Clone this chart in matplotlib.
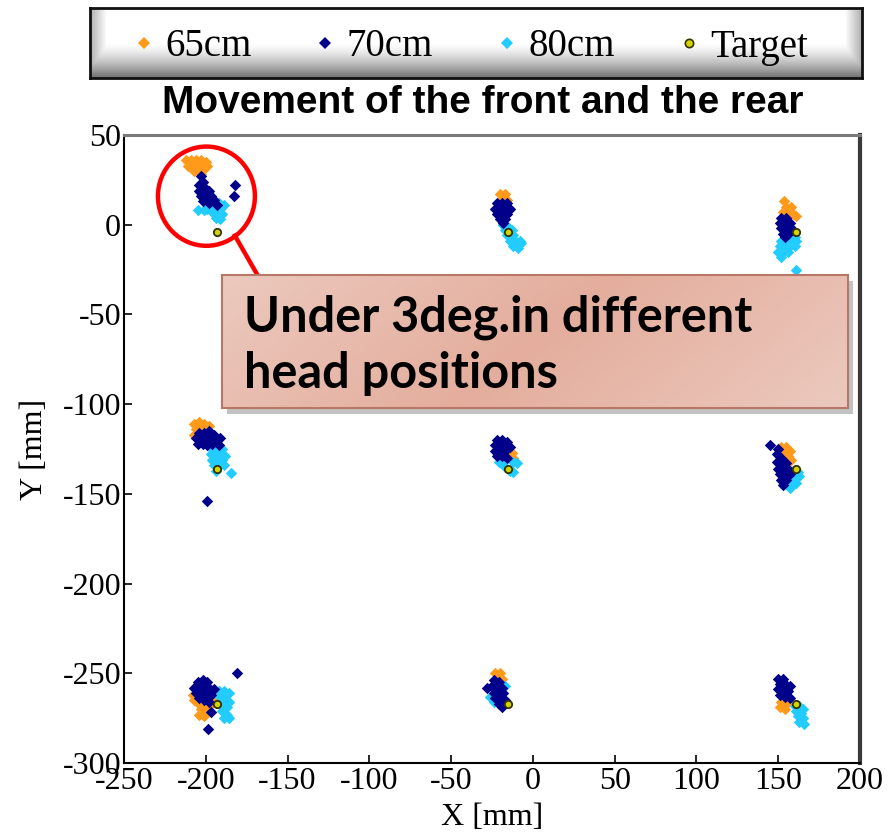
import numpy as np
import matplotlib
matplotlib.use('Agg')
import matplotlib.pyplot as plt
from matplotlib.patches import Ellipse
from matplotlib.lines import Line2D

plt.rcParams['axes.unicode_minus'] = False

# ---------------- data (mm) ----------------
cm65_pts = [
    (-212, 36), (-209, 36), (-206, 36), (-203, 36), (-200, 35), (-211, 33), (-208, 33),
    (-205, 33), (-202, 33), (-199, 33), (-207, 30), (-204, 30), (-201, 31), (-203, 28),
    (-20, 17), (-17, 17), (-19, 14), (-16, 14),
    (153.6, 13), (155, 10), (158, 10), (153, 7), (156, 7), (159, 6), (161, 5),
    (-207, -111), (-204, -110), (-201, -111), (-198, -112), (-206, -114), (-203, -114),
    (-200, -115), (-207, -117),
    (-13, -127), (-12, -130),
    (152, -124), (155, -124), (157, -126), (153, -127), (156, -129), (158, -131),
    (-208, -262), (-207, -265), (-204, -267), (-201, -268), (-198, -268), (-195, -262),
    (-194, -265), (-203, -270), (-200, -271), (-204, -273), (-201, -274),
    (-23, -250), (-20, -250), (-22, -253), (-19, -253),
    (155, -261), (152, -266), (155, -267), (151, -269), (154, -270),
]
cm70_pts = [
    (-203, 27), (-202, 24), (-204, 22), (-201, 21), (-204, 19), (-201, 18), (-198, 19),
    (-203, 16), (-200, 15), (-197, 16), (-195, 14), (-202, 13), (-198, 12),
    (-182, 22), (-183, 16), (-193, 11),
    (-22, 12), (-19, 12), (-16, 12), (-23, 9), (-20, 9), (-17, 9), (-14, 9), (-22, 6),
    (-19, 6), (-16, 6), (-20, 3), (-17, 3), (-18, 1),
    (152, 4), (155, 4), (151, 1), (154, 1), (157, 1), (152, -2), (155, -2), (158, -2),
    (153, -5), (156, -5), (154, -7),
    (-204, -116), (-201, -116), (-198, -115), (-195, -117), (-206, -119), (-203, -119),
    (-200, -119), (-197, -119), (-194, -119), (-191, -119), (-205, -122), (-202, -122),
    (-199, -123), (-196, -122), (-192, -123), (-199.5, -154),
    (-22, -120), (-19, -120), (-16, -121), (-23, -123), (-20, -123), (-17, -123),
    (-14, -124), (-23, -126), (-20, -126), (-17, -126), (-22, -129), (-19, -129), (-16, -130),
    (145, -123), (150, -125), (149, -128), (152, -130), (149, -132), (152, -133), (155, -133),
    (150, -136), (153, -136), (156, -136), (151, -139), (154, -139), (157, -139),
    (152, -142), (155, -142), (153, -145),
    (-205, -255), (-202, -254), (-199, -255), (-207, -258), (-204, -258), (-201, -258),
    (-198, -258), (-195, -259), (-206, -261), (-203, -261), (-200, -261), (-197, -262),
    (-204, -264), (-201, -265), (-198, -266), (-180.7, -250), (-198.5, -281), (-197, -271.5),
    (-28, -258), (-24, -254), (-21, -255), (-25, -257), (-22, -258), (-19, -258), (-24, -261),
    (-21, -261), (-18, -261), (-23, -264), (-20, -264), (-17, -265), (-21, -267), (-19, -269),
    (150, -253), (153, -253), (151, -256), (154, -256), (157, -257), (150, -259), (153, -259),
    (156, -260), (151, -262), (154, -263), (157, -264),
]
cm80_pts = [
    (-195, 13), (-192, 12), (-197, 10), (-194, 9), (-191, 9), (-189, 11), (-196, 7),
    (-193, 6), (-190, 6), (-194, 4), (-191, 3), (-205, 8), (-201, 8), (-199, 9),
    (-18, 0), (-15, -1), (-17, -3), (-13, -3), (-16, -6), (-12, -6), (-14, -9), (-11, -9),
    (-8, -9), (-12, -12), (-9, -13), (-7, -10),
    (154, -6), (157, -6), (160, -7), (152, -9), (155, -9), (158, -9), (161, -9), (151, -12),
    (154, -12), (157, -12), (160, -12), (150, -15), (153, -15), (156, -15), (152, -18),
    (160.7, -25),
    (-196, -125), (-193, -124), (-190, -125), (-197, -128), (-194, -128), (-191, -128),
    (-188, -129), (-196, -131), (-193, -131), (-190, -131), (-195, -134), (-192, -134),
    (-189, -134), (-194, -137), (-184.6, -138.6),
    (-21, -132), (-18, -132), (-12, -132), (-10, -133), (-17, -135), (-14, -137), (-12, -138),
    (159, -137), (162, -138), (157, -140), (160, -141), (163, -140), (158, -143), (161, -144),
    (157, -147),
    (-192, -260), (-189, -260), (-186, -261), (-191, -263), (-188, -264), (-186, -266),
    (-190, -268), (-187, -269), (-190, -271), (-187, -273), (-189, -275), (-186, -275),
    (-26, -263), (-17, -257), (-24, -266),
    (160, -268), (163, -268), (165, -270), (161, -271), (164, -272), (162, -274), (165, -275),
    (163, -277), (166, -278),
]
target_x = [-193, -15, 161, -193, -15, 161, -193, -15, 161]
target_y = [-4, -4, -4, -136, -136, -136, -267, -267, -267]

series_labels = ['65cm', '70cm', '80cm', 'Target']
series_colors = ['#FF9A1A', '#00008B', '#22CCFF', '#D4D400']

x_ticks = [-250, -200, -150, -100, -50, 0, 50, 100, 150, 200]
y_ticks = [50, 0, -50, -100, -150, -200, -250, -300]

title = 'Movement of the front and the rear'
note = 'Under 3deg.in different\nhead positions'

# ---------------- figure ----------------
W, H = 893, 834
fig = plt.figure(figsize=(W / 100, H / 100), dpi=100)


def fx(px):
    return px / W


def fy(py):
    return 1 - py / H


ax = fig.add_axes([fx(124), fy(763), fx(860) - fx(124), fy(135) - fy(763)])
ax.set_xlim(-250, 200)
ax.set_ylim(-300, 50)

for pts, col in zip([cm65_pts, cm80_pts, cm70_pts],
                    [series_colors[0], series_colors[2], series_colors[1]]):
    xs, ys = zip(*pts)
    ax.scatter(xs, ys, marker='D', s=34, color=col, linewidths=0, zorder=3)
ax.scatter(target_x, target_y, marker='o', s=28, facecolor=series_colors[3],
           edgecolor='#333300', linewidths=1.3, zorder=5)

serif = ['Liberation Serif', 'DejaVu Serif']
ax.set_xticks(x_ticks)
ax.set_yticks(y_ticks)
ax.set_xticklabels([str(v) for v in x_ticks], family=serif, fontsize=23)
ax.set_yticklabels([str(v) for v in y_ticks], family=serif, fontsize=23)
ax.tick_params(direction='in', length=6, width=1.2, pad=3, colors='black')
ax.tick_params(axis='y', pad=2)
ax.set_xlabel('X [mm]', family=serif, fontsize=23, labelpad=5)
ax.set_ylabel('Y [mm]', family=serif, fontsize=23, labelpad=10)

for side in ['left', 'bottom']:
    ax.spines[side].set_linewidth(1.5)
    ax.spines[side].set_color('black')
ax.spines['top'].set_linewidth(2.2)
ax.spines['top'].set_color('#7a7a7a')
ax.spines['right'].set_linewidth(3)
ax.spines['right'].set_color('#3a3a3a')

# red circle + pointer
ax.add_patch(Ellipse((-199.6, 15.9), 59.3, 55.3, fill=False, edgecolor='#FF0000',
                     linewidth=3.2, zorder=6))
ax.add_line(Line2D([-182.2, -168.1], [-6.1, -28.5], color='#FF0000', linewidth=3.2,
                   zorder=6, clip_on=False))

# title
fig.text(fx(483), fy(103), title, ha='center', va='center', fontsize=28,
         fontweight='bold', family=['Liberation Sans', 'DejaVu Sans'])

# legend background with gradient
lax = fig.add_axes([fx(90), fy(78), fx(862) - fx(90), fy(8) - fy(78)], zorder=4)
ny, nx = 60, 300
vy = np.linspace(0, 1, ny)[:, None]
vert = np.clip(1.0 - np.clip((vy - 0.5) / 0.5, 0, 1) ** 1.4 * 0.55, 0, 1)
vx = np.linspace(0, 1, nx)[None, :]
hor = 1.0 - 0.3 * np.clip(1 - np.minimum(vx, 1 - vx) / 0.02, 0, 1)
grad = np.minimum(vert * np.ones((1, nx)), hor * np.ones((ny, 1)))
lax.imshow(grad, cmap='gray', vmin=0, vmax=1, aspect='auto', extent=(0, 1, 1, 0))
lax.set_xticks([])
lax.set_yticks([])
for s in lax.spines.values():
    s.set_linewidth(2)
    s.set_color('#111111')

leg_handles = [Line2D([], [], linestyle='none', marker='D', markersize=6,
                      markerfacecolor=c, markeredgewidth=0) for c in series_colors[:3]]
leg_handles.append(Line2D([], [], linestyle='none', marker='o', markersize=6,
                          markerfacecolor=series_colors[3], markeredgecolor='#333300',
                          markeredgewidth=1.2))
leg = fig.legend(leg_handles, series_labels, ncol=4, loc='center',
                 bbox_to_anchor=(fx(470), fy(47)), frameon=False,
                 prop={'family': serif, 'size': 28}, handlelength=0.6,
                 handletextpad=0.25, columnspacing=1.6, borderpad=0)
leg.set_zorder(6)

# annotation box with gradient + shadow
bx0, by0, bx1, by1 = 222, 275, 848, 408
sax = fig.add_axes([fx(bx0 + 5), fy(by1 + 6), fx(bx1) - fx(bx0), fy(by0) - fy(by1)], zorder=7)
sax.set_facecolor('#9a9a9a')
sax.patch.set_alpha(0.6)
sax.set_xticks([])
sax.set_yticks([])
for s in sax.spines.values():
    s.set_visible(False)

bax = fig.add_axes([fx(bx0), fy(by1), fx(bx1) - fx(bx0), fy(by0) - fy(by1)], zorder=8)
gy, gx = np.mgrid[0:1:80j, 0:1:300j]
d = np.abs((gx * 0.8 + gy * 0.2) - 0.5)
r = 0.894 + 0.03 * d / 0.5
g = 0.680 + 0.11 * d / 0.5
b = 0.615 + 0.13 * d / 0.5
img = np.dstack([r, g, b])
bax.imshow(img, aspect='auto', extent=(0, 1, 1, 0))
bax.set_xlim(0, 1)
bax.set_ylim(1, 0)
bax.set_xticks([])
bax.set_yticks([])
for s in bax.spines.values():
    s.set_linewidth(1.5)
    s.set_color('#B87868')
bax.text(0.035, 0.47, note, transform=bax.transAxes, ha='left', va='center',
         fontsize=35, fontweight='bold', family=['Lato', 'DejaVu Sans'],
         linespacing=1.3, color='black')

fig.savefig('out.png', dpi=100)
